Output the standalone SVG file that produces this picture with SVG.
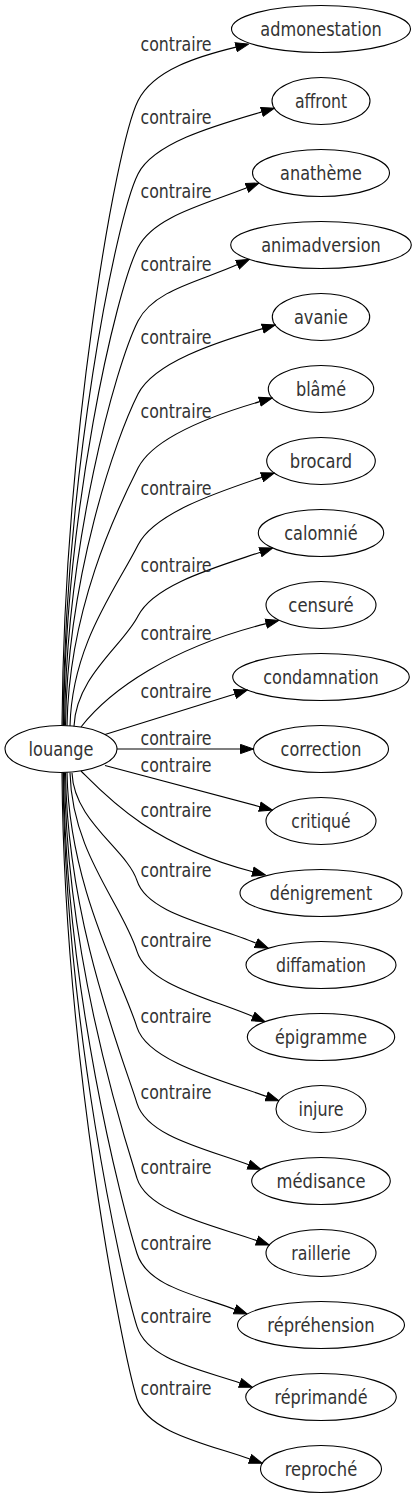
<svg xmlns="http://www.w3.org/2000/svg" width="417" height="1499" viewBox="0 0 417 1499">
<defs>
<style>
.nd ellipse{fill:none;stroke:#000;stroke-width:1.1}
.nd text{font-family:"DejaVu Sans","Liberation Sans",sans-serif;font-size:20px;fill:#333;text-anchor:middle}
.lb{font-family:"DejaVu Sans","Liberation Sans",sans-serif;font-size:20px;fill:#333}
#edges path{fill:none;stroke:#000;stroke-width:1.1;marker-end:url(#arr)}
</style>
<marker id="arr" markerUnits="userSpaceOnUse" markerWidth="14" markerHeight="11" viewBox="-0.5 -0.5 14 11" refX="0" refY="5" orient="auto">
<path d="M0,0.4 L13,5 L0,9.6 Z" fill="#000" stroke="#000" stroke-width="1"/>
</marker>
</defs>
<rect width="417" height="1499" fill="#fff"/>
<g id="edges">
<path d="M62,725.5 C64,444.3 115.5,145.3 138,100.7 C153.8,69.4 199.3,56 236.1,47.1"/>
<path d="M63,725.5 C65,477.3 115.5,218.6 138,174 C153.8,142.7 215.3,125.5 261.9,111.9"/>
<path d="M63.5,725.5 C65.5,510.4 115.5,292.1 138,247.5 C153.8,216.2 206.4,203.9 246.9,187.8"/>
<path d="M64.5,725.5 C66.5,543.5 115.5,365.6 138,321 C153.8,289.7 201.1,281 237.5,264.6"/>
<path d="M65.5,725.6 C67.5,576.4 115.5,438.6 138,394 C153.8,362.7 215.4,342.4 262.7,328.6"/>
<path d="M67,725.7 C69,609.7 115.5,512.6 138,468 C153.8,436.7 213.2,415.2 259.8,401.6"/>
<path d="M70,726 C72,644.6 115.5,589.6 138,545 C153.8,513.7 215,493 262,477.2"/>
<path d="M74,726.2 C76,676.6 123.1,645.5 138,616 C153.8,584.7 214.5,567.7 260.4,552.2"/>
<path d="M81,727 C110,690 170,648 266.2,623.6"/>
<path d="M105,734.5 L235,693.9"/>
<path d="M117,749 L240.5,749"/>
<path d="M105,765.5 L259.8,806.7"/>
<path d="M81,771 C105,795 150,845 252.8,871.7"/>
<path d="M72,773 C74,821.5 127.3,849.9 137,880.7 C147.5,914.1 212.9,924.8 256.2,943.2"/>
<path d="M70,772.7 C72,853.1 122,903.6 137,951.3 C147.5,984.7 210.2,998.4 253.1,1016.6"/>
<path d="M67,772.3 C69,887 122,979.6 137,1027.3 C147.5,1060.7 218.1,1079.4 266.6,1096.4"/>
<path d="M65.5,772.4 C67.5,921.3 122,1055.6 137,1103.3 C147.5,1136.7 206.8,1149.1 248.7,1164.75"/>
<path d="M64.5,772.5 C66.5,955.1 122,1130.6 137,1178.3 C147.5,1211.7 212.3,1225.1 257,1240.7"/>
<path d="M63.5,772.5 C65.5,989 122,1205.8 137,1253.5 C147.5,1286.9 198.1,1295.4 235,1309.4"/>
<path d="M63,772.5 C65,1021.9 122,1279 137,1326.7 C147.5,1360.1 201.3,1369.4 240.1,1383"/>
<path d="M62,772.5 C64,1054.4 122,1351.3 137,1399 C147.5,1432.4 207.7,1444.2 250,1459"/>
<text class="lb" x="140.5" y="50.7" textLength="71" lengthAdjust="spacingAndGlyphs">contraire</text>
<text class="lb" x="140.5" y="124" textLength="71" lengthAdjust="spacingAndGlyphs">contraire</text>
<text class="lb" x="140.5" y="197.5" textLength="71" lengthAdjust="spacingAndGlyphs">contraire</text>
<text class="lb" x="140.5" y="271" textLength="71" lengthAdjust="spacingAndGlyphs">contraire</text>
<text class="lb" x="140.5" y="344" textLength="71" lengthAdjust="spacingAndGlyphs">contraire</text>
<text class="lb" x="140.5" y="418" textLength="71" lengthAdjust="spacingAndGlyphs">contraire</text>
<text class="lb" x="140.5" y="495" textLength="71" lengthAdjust="spacingAndGlyphs">contraire</text>
<text class="lb" x="140.5" y="572" textLength="71" lengthAdjust="spacingAndGlyphs">contraire</text>
<text class="lb" x="140.5" y="640" textLength="71" lengthAdjust="spacingAndGlyphs">contraire</text>
<text class="lb" x="140.5" y="698" textLength="71" lengthAdjust="spacingAndGlyphs">contraire</text>
<text class="lb" x="140.5" y="744.5" textLength="71" lengthAdjust="spacingAndGlyphs">contraire</text>
<text class="lb" x="140.5" y="771.7" textLength="71" lengthAdjust="spacingAndGlyphs">contraire</text>
<text class="lb" x="140.5" y="816.7" textLength="71" lengthAdjust="spacingAndGlyphs">contraire</text>
<text class="lb" x="140.5" y="876.7" textLength="71" lengthAdjust="spacingAndGlyphs">contraire</text>
<text class="lb" x="140.5" y="947.3" textLength="71" lengthAdjust="spacingAndGlyphs">contraire</text>
<text class="lb" x="140.5" y="1023.3" textLength="71" lengthAdjust="spacingAndGlyphs">contraire</text>
<text class="lb" x="140.5" y="1099.3" textLength="71" lengthAdjust="spacingAndGlyphs">contraire</text>
<text class="lb" x="140.5" y="1174.3" textLength="71" lengthAdjust="spacingAndGlyphs">contraire</text>
<text class="lb" x="140.5" y="1249.5" textLength="71" lengthAdjust="spacingAndGlyphs">contraire</text>
<text class="lb" x="140.5" y="1322.7" textLength="71" lengthAdjust="spacingAndGlyphs">contraire</text>
<text class="lb" x="140.5" y="1395" textLength="71" lengthAdjust="spacingAndGlyphs">contraire</text>
</g>
<g id="n-louange" class="nd"><ellipse cx="61" cy="749" rx="56" ry="23.5"/><text x="61" y="755.5" textLength="65" lengthAdjust="spacingAndGlyphs">louange</text></g>
<g id="n-admonestation" class="nd"><ellipse cx="321" cy="29" rx="89.5" ry="23.5"/><text x="321" y="35.5" textLength="121.5" lengthAdjust="spacingAndGlyphs">admonestation</text></g>
<g id="n-affront" class="nd"><ellipse cx="321" cy="101" rx="49" ry="23.5"/><text x="321" y="107.5" textLength="52.2" lengthAdjust="spacingAndGlyphs">affront</text></g>
<g id="n-anatheme" class="nd"><ellipse cx="321" cy="173" rx="68.5" ry="23.5"/><text x="321" y="179.5" textLength="81.8" lengthAdjust="spacingAndGlyphs">anathème</text></g>
<g id="n-animadversion" class="nd"><ellipse cx="321" cy="245" rx="90.3" ry="23.5"/><text x="321" y="251.5" textLength="119.6" lengthAdjust="spacingAndGlyphs">animadversion</text></g>
<g id="n-avanie" class="nd"><ellipse cx="321" cy="317" rx="48.7" ry="23.5"/><text x="321" y="323.5" textLength="54.2" lengthAdjust="spacingAndGlyphs">avanie</text></g>
<g id="n-blame" class="nd"><ellipse cx="321" cy="389" rx="52.7" ry="23.5"/><text x="321" y="395.5" textLength="50.1" lengthAdjust="spacingAndGlyphs">blâmé</text></g>
<g id="n-brocard" class="nd"><ellipse cx="321" cy="461" rx="54.3" ry="23.5"/><text x="321" y="467.5" textLength="62.4" lengthAdjust="spacingAndGlyphs">brocard</text></g>
<g id="n-calomnie" class="nd"><ellipse cx="321" cy="533" rx="62.7" ry="23.5"/><text x="321" y="539.5" textLength="73.6" lengthAdjust="spacingAndGlyphs">calomnié</text></g>
<g id="n-censure" class="nd"><ellipse cx="321" cy="605" rx="55" ry="23.5"/><text x="321" y="611.5" textLength="65.4" lengthAdjust="spacingAndGlyphs">censuré</text></g>
<g id="n-condamnation" class="nd"><ellipse cx="321" cy="677" rx="88.3" ry="23.5"/><text x="321" y="683.5" textLength="115.6" lengthAdjust="spacingAndGlyphs">condamnation</text></g>
<g id="n-correction" class="nd"><ellipse cx="321" cy="749" rx="67.5" ry="23.5"/><text x="321" y="755.5" textLength="80.8" lengthAdjust="spacingAndGlyphs">correction</text></g>
<g id="n-critique" class="nd"><ellipse cx="321" cy="821" rx="55" ry="23.5"/><text x="321" y="827.5" textLength="59.3" lengthAdjust="spacingAndGlyphs">critiqué</text></g>
<g id="n-denigrement" class="nd"><ellipse cx="321" cy="893" rx="81" ry="23.5"/><text x="321" y="899.5" textLength="102.3" lengthAdjust="spacingAndGlyphs">dénigrement</text></g>
<g id="n-diffamation" class="nd"><ellipse cx="321" cy="965" rx="75" ry="23.5"/><text x="321" y="971.5" textLength="90" lengthAdjust="spacingAndGlyphs">diffamation</text></g>
<g id="n-epigramme" class="nd"><ellipse cx="321" cy="1037" rx="73.7" ry="23.5"/><text x="321" y="1043.5" textLength="92" lengthAdjust="spacingAndGlyphs">épigramme</text></g>
<g id="n-injure" class="nd"><ellipse cx="321" cy="1109" rx="45" ry="23.5"/><text x="321" y="1115.5" textLength="45" lengthAdjust="spacingAndGlyphs">injure</text></g>
<g id="n-medisance" class="nd"><ellipse cx="321" cy="1181" rx="69.3" ry="23.5"/><text x="321" y="1187.5" textLength="89" lengthAdjust="spacingAndGlyphs">médisance</text></g>
<g id="n-raillerie" class="nd"><ellipse cx="321" cy="1253" rx="55" ry="23.5"/><text x="321" y="1259.5" textLength="59.3" lengthAdjust="spacingAndGlyphs">raillerie</text></g>
<g id="n-reprehension" class="nd"><ellipse cx="321" cy="1325" rx="83.5" ry="23.5"/><text x="321" y="1331.5" textLength="107.4" lengthAdjust="spacingAndGlyphs">répréhension</text></g>
<g id="n-reprimande" class="nd"><ellipse cx="321" cy="1397" rx="75.3" ry="23.5"/><text x="321" y="1403.5" textLength="93" lengthAdjust="spacingAndGlyphs">réprimandé</text></g>
<g id="n-reproche" class="nd"><ellipse cx="321" cy="1469" rx="60.5" ry="23.5"/><text x="321" y="1475.5" textLength="72.6" lengthAdjust="spacingAndGlyphs">reproché</text></g>
</svg>
